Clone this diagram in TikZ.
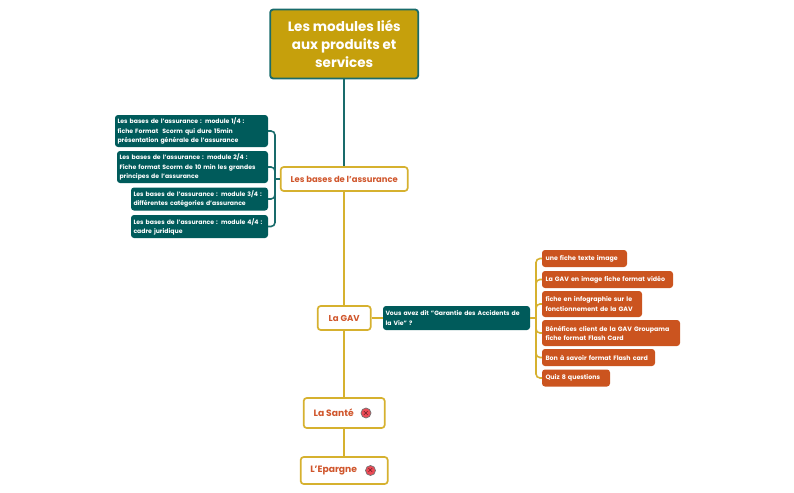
\documentclass[tikz,border=0pt]{standalone}
\usepackage{fontspec}
\setmainfont{Poppins}
\usepackage{tikz}
\definecolor{deepteal}{HTML}{005B5B}
\definecolor{rootgold}{HTML}{C6A00C}
\definecolor{linegold}{HTML}{D6B12F}
\definecolor{rust}{HTML}{CB541F}
\definecolor{titlerust}{HTML}{D0562C}
\definecolor{iconred}{HTML}{EC4A55}
\tikzset{
  rootbox/.style={draw=deepteal!90!white,line width=1.8pt,fill=rootgold,rounded corners=3pt,text=white,
    minimum width=148pt,minimum height=69pt,align=center,font=\fontsize{13.5}{18}\selectfont\bfseries},
  topicbox/.style={draw=linegold,line width=1.7pt,fill=white,rounded corners=3pt,text=titlerust,
    minimum width=#1,minimum height=24pt,inner sep=0pt,font=\fontsize{8.6}{10}\selectfont\bfseries},
  modbox/.style={fill=deepteal,rounded corners=3pt,text=white,text width=#1,inner xsep=2.5pt,inner ysep=0pt,
    align=left,font=\fontsize{6.15}{9.2}\selectfont\bfseries},
  subbox/.style={fill=rust,rounded corners=3pt,text=white,text width=#1,inner xsep=3.5pt,inner ysep=0pt,
    align=left,font=\fontsize{6.3}{9.2}\selectfont\bfseries},
  tealline/.style={draw=deepteal!90!white,line width=1.6pt,rounded corners=4pt},
  goldline/.style={draw=linegold,line width=1.6pt,rounded corners=4pt},
  iconmark/.style={circle,fill=iconred,draw=black!55,line width=.7pt,minimum size=10pt,inner sep=0pt,
    font=\fontsize{8}{8}\selectfont},
}
\begin{document}
\begin{tikzpicture}[x=1pt,y=-1pt]
    \useasboundingbox (0,0) rectangle (794,492);
    %forks
    \coordinate (leftfork) at (275,179);
    \coordinate (rightfork) at (536,318);
    %main branch
    \node[rootbox] (root) at (344.2,44) {Les modules liés\\aux produits et\\services};
    \node[topicbox=127pt,font=\fontsize{8.4}{10}\selectfont\bfseries] (bases) at (344.2,179) {Les bases de l'assurance};
    \node[topicbox=53pt] (gav) at (344.2,318) {La GAV};
    \node[topicbox=81pt,minimum height=30pt,font=\fontsize{9.2}{10}\selectfont\bfseries] (sante) at (344.2,413) {La Santé\hspace{21pt}\mbox{}};
    \node[topicbox=87pt,minimum height=27pt,font=\fontsize{9.2}{10}\selectfont\bfseries] (epargne) at (344.2,470.5) {L'Epargne\hspace{21pt}\mbox{}};
    \node[iconmark] (santeicon) at (366,413) {$\times$};
    \node[iconmark] (epargneicon) at (370.5,470.5) {$\times$};
    %left modules
    \node[modbox=148pt,minimum height=32pt] (mod1) at (191.5,131) {Les bases de l'assurance : module 1/4 :\\fiche Format~ Scorm qui dure 15min\\présentation générale de l'assurance};
    \node[modbox=146pt,minimum height=32pt] (mod2) at (192.5,167) {Les bases de l'assurance : module 2/4 :\\Fiche format Scorm de 10 min les grandes\\principes de l'assurance};
    \node[modbox=132pt,minimum height=23pt] (mod3) at (199.5,199) {Les bases de l'assurance : module 3/4 :\\différentes catégories d'assurance};
    \node[modbox=132pt,minimum height=23pt] (mod4) at (199.5,226.5) {Les bases de l'assurance : module 4/4 :\\cadre juridique};
    %right modules
    \node[modbox=142pt,minimum height=24pt] (quiz) at (456.5,318) {Vous avez dit "Garantie des Accidents de\\la Vie" ?};
    \node[subbox=78pt,minimum height=17pt] (sub1) at (584.5,258.5) {une fiche texte image};
    \node[subbox=124pt,minimum height=17pt] (sub2) at (607.5,279.5) {La GAV en image fiche format vidéo};
    \node[subbox=93pt,minimum height=26pt] (sub3) at (592,304) {fiche en infographie sur le\\fonctionnement de la GAV};
    \node[subbox=131pt,minimum height=26pt] (sub4) at (611,333) {Bénéfices client de la GAV Groupama\\fiche format Flash Card};
    \node[subbox=106pt,minimum height=17pt] (sub5) at (598.5,357.5) {Bon à savoir format Flash card};
    \node[subbox=61pt,minimum height=17pt] (sub6) at (576,378) {Quiz 8 questions};
    %edges
    \draw[tealline] (root) -- (bases);
    \draw[goldline] (bases) -- (gav);
    \draw[goldline] (gav) -- (sante);
    \draw[goldline] (sante) -- (epargne);
    \draw[goldline] (gav) -- (quiz);
    \draw[tealline] (bases.west) -- (leftfork);
    \draw[goldline] (quiz.east) -- (rightfork);
    \foreach \i in {1,...,4}
      \draw[tealline] (leftfork) |- (mod\i.east);
    \foreach \i in {1,...,6}
      \draw[goldline] (rightfork) |- (sub\i.west);
\end{tikzpicture}
\end{document}
